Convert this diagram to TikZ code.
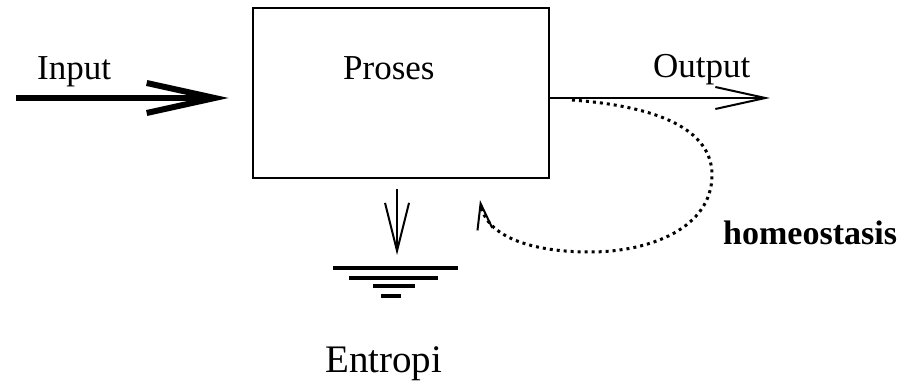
\documentclass[tikz,border=0pt]{standalone}
\usepackage{fontspec}
\setmainfont{Liberation Serif}
\usetikzlibrary{arrows.meta}
\begin{document}
\begin{tikzpicture}[x=1pt,y=-1pt,
  lbl/.style={font=\fontsize{35}{40}\selectfont, inner sep=0pt, anchor=base west},
  gline/.style={line width=3.5pt},
  every path/.style={line join=miter}]
\useasboundingbox (0,0) rectangle (900,382);
\node[draw, line width=2.8pt, minimum width=296pt, minimum height=170pt, inner sep=0pt] (box) at (401,93) {};
\node[lbl] (proses) at (343,80) {Proses};
\node[lbl] (input) at (37,80) {Input};
\node[lbl] (output) at (653,78) {Output};
\node[lbl, font=\fontsize{34}{40}\selectfont\bfseries] (homeo) at (723,245) {homeostasis};
\node[lbl, font=\fontsize{39}{44}\selectfont] (entropi) at (325,372) {Entropi};
\coordinate (inL) at (16,98);
\coordinate (outR) at (770,98);
\coordinate (gnd) at (397,268);
\coordinate (loopS) at (572,100);
\coordinate (loopE) at (480,200);
% input
\draw[line width=6pt, -{Straight Barb[length=68pt,width=30pt]}] (inL) -- ([xshift=-23pt]box.west |- inL);
% output
\draw[line width=2pt, -{Straight Barb[length=50pt,width=22pt]}] (box.east |- outR) -- (outR);
% entropy
\draw[line width=2pt, -{Straight Barb[length=48pt,width=24pt]}] ([yshift=-10pt]box.south -| gnd) -- ([yshift=13pt]gnd);
\draw[gline] ([xshift=-64pt]gnd) -- ([xshift=61pt]gnd);
\draw[gline] ([xshift=-48pt,yshift=-10pt]gnd) -- ([xshift=41pt,yshift=-10pt]gnd);
\draw[gline] ([xshift=-24pt,yshift=-18pt]gnd) -- ([xshift=18pt,yshift=-18pt]gnd);
\draw[gline] ([xshift=-16pt,yshift=-28pt]gnd) -- ([xshift=4pt,yshift=-28pt]gnd);
% homeostasis loop
\draw[line width=3pt, dash pattern=on 3pt off 4pt, -{Straight Barb[length=26pt,width=15pt,line width=2pt]}]
  (loopS) .. controls (680,108) and (712,140) .. (712,175)
  .. controls (712,228) and (650,252) .. (590,252)
  .. controls (530,252) and (486,236) .. (loopE);
\end{tikzpicture}
\end{document}
